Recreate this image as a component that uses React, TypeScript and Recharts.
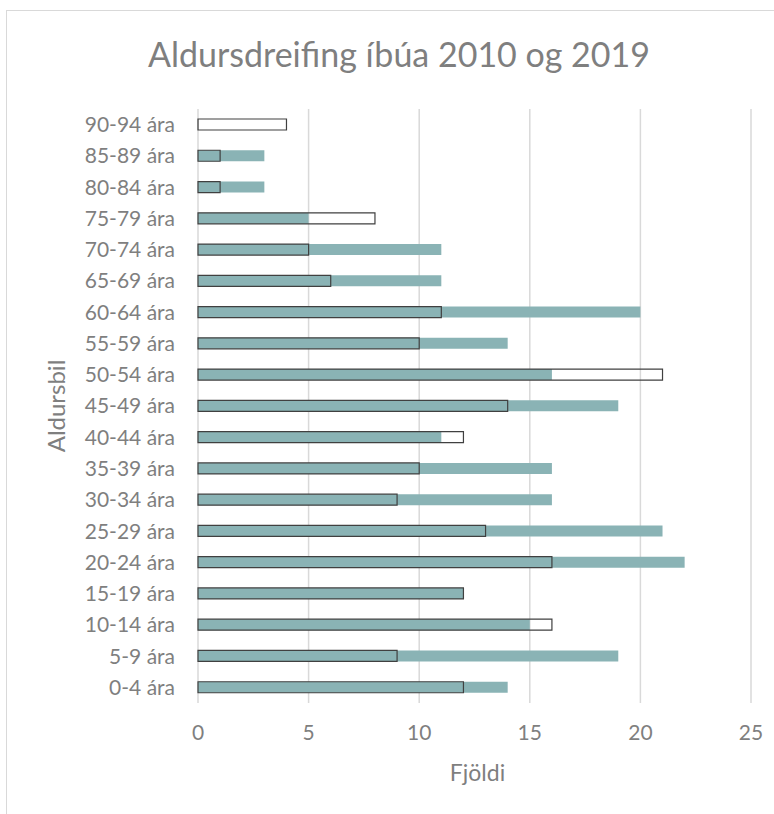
import React from 'react';
import { BarChart, Bar, XAxis, YAxis, CartesianGrid } from 'recharts';

const categories = [
  '0-4 ára', '5-9 ára', '10-14 ára', '15-19 ára', '20-24 ára', '25-29 ára',
  '30-34 ára', '35-39 ára', '40-44 ára', '45-49 ára', '50-54 ára', '55-59 ára',
  '60-64 ára', '65-69 ára', '70-74 ára', '75-79 ára', '80-84 ára', '85-89 ára', '90-94 ára',
];
const values2019 = [14, 19, 15, 12, 22, 21, 16, 16, 11, 19, 16, 14, 20, 11, 11, 5, 3, 3, 0];
const values2010 = [12, 9, 16, 12, 16, 13, 9, 10, 12, 14, 21, 10, 11, 6, 5, 8, 1, 1, 4];
const xTicks = [0, 5, 10, 15, 20, 25];

const data = categories.map((c, i) => ({ age: c, y2019: values2019[i], y2010: values2010[i] }));

const FONT = 'Lato, "Open Sans", sans-serif';
const TEXT = '#7f7f7f';

export default function App() {
  return (
    <div style={{ position: 'absolute', left: 0, top: 0, width: 774, height: 814, overflow: 'hidden', background: '#fff' }}>
      <div style={{ position: 'absolute', left: 6, top: 10, width: 900, height: 900, border: '1px solid #d9d9d9', boxSizing: 'border-box' }} />
      <div style={{ position: 'absolute', left: 0, top: 0 }}>
        <BarChart
          width={774}
          height={814}
          data={data}
          layout="vertical"
          margin={{ top: 109, right: 23, bottom: 0, left: 0 }}
          barSize={11}
        >
          <text x={399} y={67} textAnchor="middle" fontFamily={FONT} fontSize={34} fill={TEXT}>
            Aldursdreifing íbúa 2010 og 2019
          </text>
          <CartesianGrid horizontal={false} vertical stroke="#d9d9d9" strokeWidth={1.5} />
          <XAxis
            type="number"
            domain={[0, 25]}
            ticks={xTicks}
            height={111}
            tickLine={false}
            axisLine={false}
            tickSize={0}
            tickMargin={22}
            tick={{ fill: TEXT, fontSize: 21, fontFamily: FONT }}
            label={{
              content: (p: any) => (
                <text
                  x={p.viewBox.x + p.viewBox.width / 2 + 3}
                  y={p.viewBox.y + 78}
                  textAnchor="middle"
                  fontFamily={FONT}
                  fontSize={23}
                  fill={TEXT}
                >
                  Fjöldi
                </text>
              ),
            }}
          />
          <YAxis
            yAxisId="a"
            type="category"
            dataKey="age"
            reversed
            width={198}
            tickLine={false}
            axisLine={false}
            tickSize={0}
            tickMargin={23}
            interval={0}
            tick={{ fill: TEXT, fontSize: 21, fontFamily: FONT }}
            label={{
              content: (p: any) => (
                <text
                  x={55}
                  y={p.viewBox.y + p.viewBox.height / 2}
                  textAnchor="middle"
                  dominantBaseline="central"
                  transform={`rotate(-90, 55, ${p.viewBox.y + p.viewBox.height / 2})`}
                  fontFamily={FONT}
                  fontSize={24}
                  fill={TEXT}
                >
                  Aldursbil
                </text>
              ),
            }}
          />
          <YAxis yAxisId="b" type="category" dataKey="age" reversed hide width={0} />
          <Bar yAxisId="a" dataKey="y2019" name="2019" fill="#8ab3b5" isAnimationActive={false} />
          <Bar yAxisId="b" dataKey="y2010" name="2010" fill="none" stroke="#404040" strokeWidth={1.2} isAnimationActive={false} />
        </BarChart>
      </div>
    </div>
  );
}
